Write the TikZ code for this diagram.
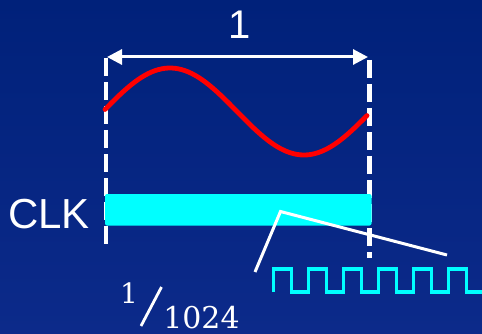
\documentclass[tikz,border=0pt]{standalone}
\usepackage{fontspec}
\setmainfont{Liberation Sans}
\newfontfamily\fracfont{DejaVu Serif}
\usetikzlibrary{arrows.meta}
\definecolor{bgtop}{RGB}{0,33,122}
\definecolor{bgbot}{RGB}{12,42,138}
\definecolor{wavered}{RGB}{255,0,0}
\definecolor{clkcyan}{RGB}{0,255,255}
\tikzset{
  guide/.style={white, line width=4.5pt, dash pattern=on 18pt off 6pt},
  lbl/.style={white, inner sep=0pt, anchor=base},
  pointer/.style={white, line width=3pt},
}
\begin{document}
\begin{tikzpicture}[x=1pt,y=-1pt]
\useasboundingbox (0,0) rectangle (482,334);
\shade[top color=bgtop, bottom color=bgbot] (0,0) rectangle (482,334);
% guides
\coordinate (gl1) at (106,58);
\coordinate (gl2) at (106,246);
\coordinate (gr1) at (369.5,60);
\coordinate (gr2) at (369.5,258);
\draw[guide] (gl1) -- (gl2);
\draw[guide] (gr1) -- (gr2);
% dimension arrow
\coordinate (al) at (107,57);
\coordinate (ar) at (368,57);
\draw[white, line width=3pt, {Triangle[length=15pt,width=15pt]}-{Triangle[length=15pt,width=15pt]}] (al) -- (ar);
\node[lbl, font=\fontsize{40}{40}\selectfont] (one) at (240,39) {1};
% sine
\draw[wavered, line width=4.8pt, line cap=round, domain=105:367, samples=80, smooth, variable=\t]
  plot (\t, {111.5 - 43.5*sin((\t-103)*1.34328)});
% clock bar
\fill[clkcyan, rounded corners=2pt] (105,194) rectangle (371.5,225.5);
\node[lbl, font=\fontsize{42}{42}\selectfont] (clk) at (49,228) {CLK};
% pointer lines
\coordinate (p1) at (255,272);
\coordinate (p2) at (280.5,211.5);
\coordinate (p3) at (447,255);
\draw[pointer] (p1) -- (p2) -- (p3);
% square wave
\coordinate (sq0) at (273.3,292);
\draw[clkcyan, line width=3.2pt] (sq0)
  \foreach \k in {0,...,5} { -- ++(0,-23) -- ++(18.4,0) -- ++(0,23) -- ++(16.6,0) } -- ++(10,0);
% fraction
\node[lbl, font=\fracfont\fontsize{28}{28}\selectfont] (num) at (129,303) {1};
\node[lbl, font=\fracfont\fontsize{30}{30}\selectfont] (den) at (201.5,328) {1024};
\coordinate (s1) at (141,326);
\coordinate (s2) at (161.5,287);
\draw[white, line width=2.8pt] (s1) -- (s2);
\end{tikzpicture}
\end{document}
